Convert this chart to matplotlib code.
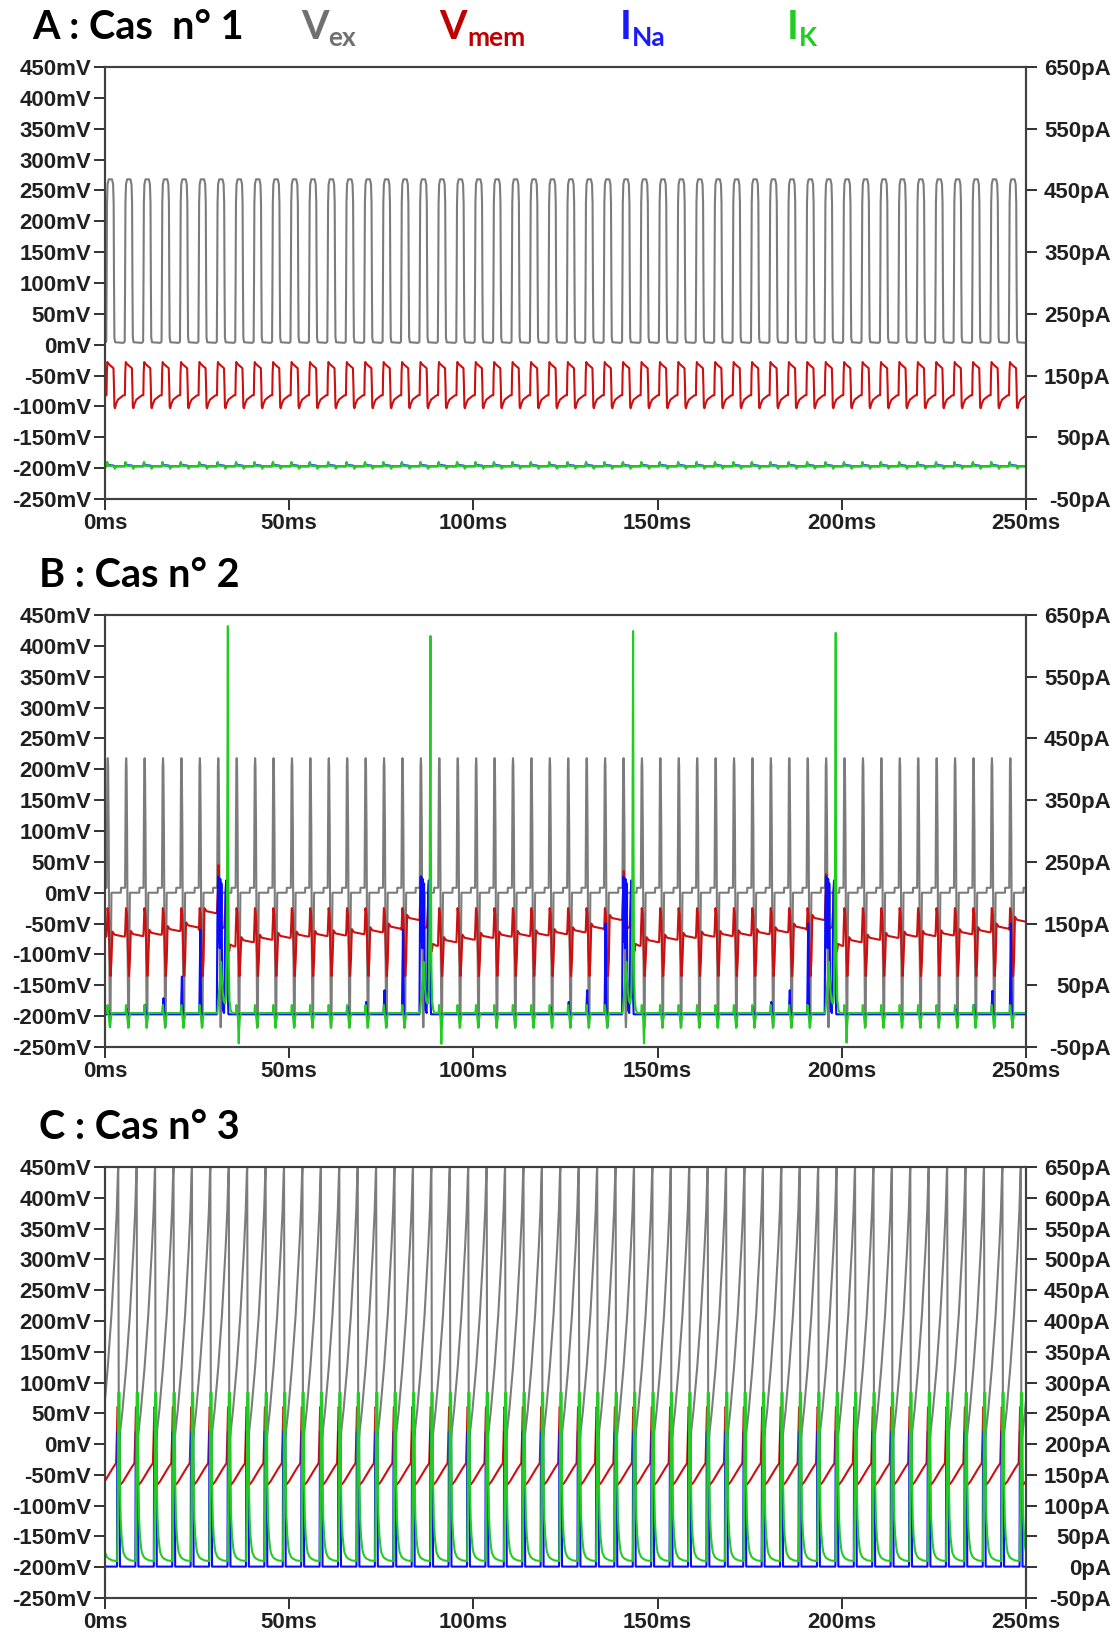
import numpy as np
import matplotlib
matplotlib.use("Agg")
import matplotlib.pyplot as plt

# --- shared timing ---
PERIOD = 5.0          # ms per stimulation cycle
N_CYCLES = 50
T_END = 250

# --- Panel A (Cas n° 1): one cycle, repeated every 5 ms ---
A_VEX_PHASE = [0.0, 0.35, 0.45, 0.55, 0.7, 1.0, 1.9, 2.2, 2.35, 2.45, 2.55, 2.75]
A_VEX_MV = [3, 5, 100, 230, 260, 268, 268, 260, 230, 100, 12, 4]
A_VMEM_PHASE = [0.0, 0.4, 0.5, 0.65, 0.8, 1.5, 2.3, 2.45, 2.55, 2.7, 3.0, 3.5, 4.6]
A_VMEM_MV = [-82, -82, -45, -28, -30, -34, -38, -70, -100, -103, -96, -89, -84]
A_INA_PHASE = [0.0, 0.4, 0.55, 0.8, 2.4, 2.6, 3.0]
A_INA_PA = [3, 3, 9, 5, 4, 1, 3]
A_IK_PHASE = [0.0, 0.4, 0.6, 0.9, 2.5, 2.65, 3.2]
A_IK_PA = [3, 3, 10, 4, 3, -1, 3]

# --- Panel B (Cas n° 2) ---
B_VEX_PHASE = [0.0, 0.45, 0.55, 0.65, 0.75, 0.85, 1.0, 1.15, 1.3, 1.4, 1.5, 1.6, 1.75, 4.3, 4.35]
B_VEX_MV = [8, 8, 120, 205, 218, 205, 100, -100, -205, -218, -205, -100, 0, 0, 8]
B_BURST_CYCLES = [6, 17, 28, 39]
B_BURST_VMEM_PEAK = [45, 27, 35, 30]     # mV
B_BURST_IK_PEAK = [632, 616, 624, 621]   # pA
# resting level of Vmem after the loop of each cycle (mV)
B_VMEM_BASE = [-71, -70, -68, -62, -56, -33, -87, -80, -76, -73,
               -71, -70, -69, -67, -64, -58, -44, -86, -80, -76,
               -73, -71, -70, -69, -67, -64, -58, -44, -86, -80,
               -76, -73, -71, -70, -69, -67, -64, -58, -44, -86,
               -80, -76, -73, -71, -70, -69, -67, -64, -58, -47]
# INa spike height in each cycle (pA)
B_INA_PEAK = [10, 12, 18, 29, 64, 140, 0, 3, 3, 3,
              3, 3, 3, 15, 23, 42, 140, 0, 3, 3,
              3, 3, 3, 3, 15, 23, 42, 150, 0, 3,
              3, 3, 3, 3, 3, 15, 23, 42, 150, 0,
              3, 3, 3, 3, 3, 3, 12, 18, 41, 150]
# IK negative dip in each cycle (pA)
B_IK_DIP = [-17, -19, -19, -19, -19, -19, -19, -44, -19, -19,
            -19, -19, -19, -19, -19, -19, -19, -19, -45, -19,
            -19, -19, -19, -19, -19, -19, -19, -19, -19, -44,
            -19, -19, -19, -19, -19, -19, -19, -19, -19, -19,
            -43, -19, -19, -19, -19, -19, -19, -19, -19, -19]
B_VMEM_LOOP_PHASE = [0.5, 0.7, 0.95, 1.25, 1.5, 1.75]
B_VMEM_LOOP_MV = [-60, -25, -35, -100, -135, -110]
B_VMEM_BURST_PHASE = [0.55, 0.8, 1.0, 1.3, 1.8, 2.4, 2.7, 2.9, 3.1, 3.4, 3.7]
B_VMEM_BURST_MV = [-10, None, 0, -45, -58, -55, -20, 15, -20, -80, -95]
B_INA_SPIKE_PHASE = [0.6, 0.75, 0.88, 1.0, 1.15]
B_INA_SPIKE_FRAC = [0.0, 0.5, 1.0, 0.4, 0.0]
B_INA_BURST_PHASE = [0.35, 0.5, 0.7, 0.85, 1.0, 1.15, 1.3, 1.45, 1.6, 1.8, 2.0,
                     2.3, 2.5, 2.7, 2.9, 3.1, 3.3, 3.5]
B_INA_BURST_PA = [3, 150, 226, 120, 224, 110, 222, 120, 215, 60, 10,
                  5, 60, 200, 220, 200, 40, 3]
B_IK_BURST_PHASE = [0.5, 0.7, 0.9, 1.2, 1.5, 1.8, 2.2, 2.6, 2.9, 3.1, 3.25,
                    3.35, 3.45, 3.6, 3.8, 4.1, 4.5]
B_IK_BURST_PA = [5, 20, 35, 60, 88, 50, 25, 20, 40, 150, 450,
                 None, 300, 80, 25, 10, 5]
B_IK_CYCLE_PHASE = [0.55, 0.7, 0.85, 1.1, 1.3, 1.5, 1.9]
B_IK_CYCLE_PA = [5, 18, 8, -5, None, -5, 5]

# --- Panel C (Cas n° 3) ---
C_VEX_PHASE = [0.0, 0.75, 1.75, 2.75, 3.2, 3.5, 3.6, 3.75, 4.75]
C_VEX_MV = [72, 125, 210, 320, 380, 440, 450, 0, 55]
C_VMEM_PHASE = [0.0, 1.0, 2.0, 3.0, 3.2, 3.4, 3.6, 3.8, 4.0, 4.5]
C_VMEM_MV = [-60, -50, -40, -31, 10, 60, 57, 0, -67, -64]
C_INA_PHASE = [0.0, 3.25, 3.35, 3.95, 4.05]
C_INA_PA = [1, 1, 220, 220, 1]
C_IK_PHASE = [0.0, 0.5, 1.0, 2.0, 3.3, 3.45, 3.6, 3.95, 4.05, 4.25, 4.5, 4.8]
C_IK_PA = [24, 17, 14, 11, 10, 100, 283, 283, 140, 80, 50, 32]

# --- axis ticks ---
MV_TICKS = list(range(-250, 451, 50))
MS_TICKS = [0, 50, 100, 150, 200, 250]
PA_TICKS_AB = list(range(-50, 651, 100))
PA_TICKS_C = list(range(-50, 651, 50))

GRAY, RED, BLUE, GREEN = "#7c7c7c", "#cc1010", "#0a0aff", "#22cc22"


def periodic(phase, vals):
    ph = np.asarray(phase, float)
    v = np.asarray(vals, float)
    t = (np.arange(N_CYCLES)[:, None] * PERIOD + ph[None, :]).ravel()
    return np.append(t, T_END), np.append(np.tile(v, N_CYCLES), v[0])


def build_b():
    vex = periodic(B_VEX_PHASE, B_VEX_MV)
    tv, yv, ti, yi, tk, yk = [], [], [], [], [], []
    for k in range(N_CYCLES):
        t0 = k * PERIOD
        bp = B_VMEM_BASE[k - 1] if k > 0 else B_VMEM_BASE[0]
        b = B_VMEM_BASE[k]
        if k in B_BURST_CYCLES:
            j = B_BURST_CYCLES.index(k)
            mv = [B_BURST_VMEM_PEAK[j] if v is None else v for v in B_VMEM_BURST_MV]
            tv += [t0, t0 + 0.4] + [t0 + p for p in B_VMEM_BURST_PHASE] + [t0 + 4.0]
            yv += [bp, bp] + mv + [b + 3]
            ti += [t0] + [t0 + p for p in B_INA_BURST_PHASE]
            yi += [3] + B_INA_BURST_PA
            pk = [B_BURST_IK_PEAK[j] if v is None else v for v in B_IK_BURST_PA]
            tk += [t0] + [t0 + p for p in B_IK_BURST_PHASE]
            yk += [5] + pk
        else:
            tv += [t0, t0 + 0.4] + [t0 + p for p in B_VMEM_LOOP_PHASE] + [t0 + 2.0, t0 + 2.6]
            yv += [bp, bp] + B_VMEM_LOOP_MV + [b + 8, b + 3]
            p = B_INA_PEAK[k]
            ti += [t0] + [t0 + ph for ph in B_INA_SPIKE_PHASE]
            yi += [3] + [3 + f * (p - 3) for f in B_INA_SPIKE_FRAC]
            tk += [t0] + [t0 + ph for ph in B_IK_CYCLE_PHASE]
            yk += [5] + [B_IK_DIP[k] if v is None else v for v in B_IK_CYCLE_PA]
    tv.append(T_END); yv.append(B_VMEM_BASE[-1])
    ti.append(T_END); yi.append(3)
    tk.append(T_END); yk.append(5)
    return vex, (tv, yv), (ti, yi), (tk, yk)


W, H = 1117, 1635
fig = plt.figure(figsize=(W / 100, H / 100), dpi=100)
TICK_FONT = dict(family="Liberation Sans", weight="bold", size=16)


def make_panel(top, bottom, pa_ticks):
    left, right = 105, 1026
    ax = fig.add_axes([left / W, 1 - bottom / H, (right - left) / W, (bottom - top) / H])
    ax2 = ax.twinx()
    ax.set_xlim(0, T_END)
    ax.set_ylim(-250, 450)
    ax2.set_ylim(-50, 650)
    ax.set_xticks(MS_TICKS)
    ax.set_xticklabels([f"{v}ms" for v in MS_TICKS], fontdict=TICK_FONT)
    ax.set_yticks(MV_TICKS)
    ax.set_yticklabels([f"{v}mV" for v in MV_TICKS], fontdict=TICK_FONT)
    ax2.set_yticks(pa_ticks)
    ax2.set_yticklabels([f"{v}pA" for v in pa_ticks], fontdict=TICK_FONT)
    for lbl in ax2.get_yticklabels():
        lbl.set_horizontalalignment("right")
    ax.tick_params(direction="out", length=8, width=1.3, pad=2, colors="#202020")
    ax2.tick_params(direction="out", length=8, width=1.3, pad=53, colors="#202020")
    for a in (ax, ax2):
        for s in a.spines.values():
            s.set_color("#404040")
            s.set_linewidth(1.5)
    ax.set_zorder(1)
    ax2.set_zorder(2)
    ax2.patch.set_visible(False)
    return ax, ax2


def draw(ax, ax2, vex, vmem, ina, ik):
    ax.plot(*vex, color=GRAY, lw=1.5)
    ax.plot(*vmem, color=RED, lw=1.5)
    ax2.plot(*ina, color=BLUE, lw=1.5)
    ax2.plot(*ik, color=GREEN, lw=1.5)


axA, axA2 = make_panel(67, 499, PA_TICKS_AB)
draw(axA, axA2, periodic(A_VEX_PHASE, A_VEX_MV), periodic(A_VMEM_PHASE, A_VMEM_MV),
     periodic(A_INA_PHASE, A_INA_PA), periodic(A_IK_PHASE, A_IK_PA))

axB, axB2 = make_panel(615, 1047, PA_TICKS_AB)
draw(axB, axB2, *build_b())

axC, axC2 = make_panel(1167, 1598, PA_TICKS_C)
draw(axC, axC2, periodic(C_VEX_PHASE, C_VEX_MV), periodic(C_VMEM_PHASE, C_VMEM_MV),
     periodic(C_INA_PHASE, C_INA_PA), periodic(C_IK_PHASE, C_IK_PA))

# --- panel titles and the colour key ---
TITLE_FONT = dict(family="Lato", weight="bold")


def ftext(x, y, s, size, color="black"):
    fig.text(x / W, 1 - y / H, s, fontsize=size, color=color, va="baseline", ha="left", **TITLE_FONT)


ftext(32, 39, "A : Cas  n° 1", 28.5)
ftext(39, 587, "B : Cas n° 2", 28.5)
ftext(39, 1139, "C : Cas n° 3", 28.5)

ftext(301, 39, "V", 28.5, "#707070")
ftext(328, 46, "ex", 19, "#707070")
ftext(439, 39, "V", 28.5, "#c00000")
ftext(467, 46, "mem", 19, "#c00000")
ftext(620, 39, "I", 28.5, "#1a1aff")
ftext(632, 46, "Na", 19, "#1a1aff")
ftext(787, 39, "I", 28.5, "#22cc22")
ftext(799, 46, "K", 19, "#22cc22")

fig.savefig("out.png", dpi=100)
